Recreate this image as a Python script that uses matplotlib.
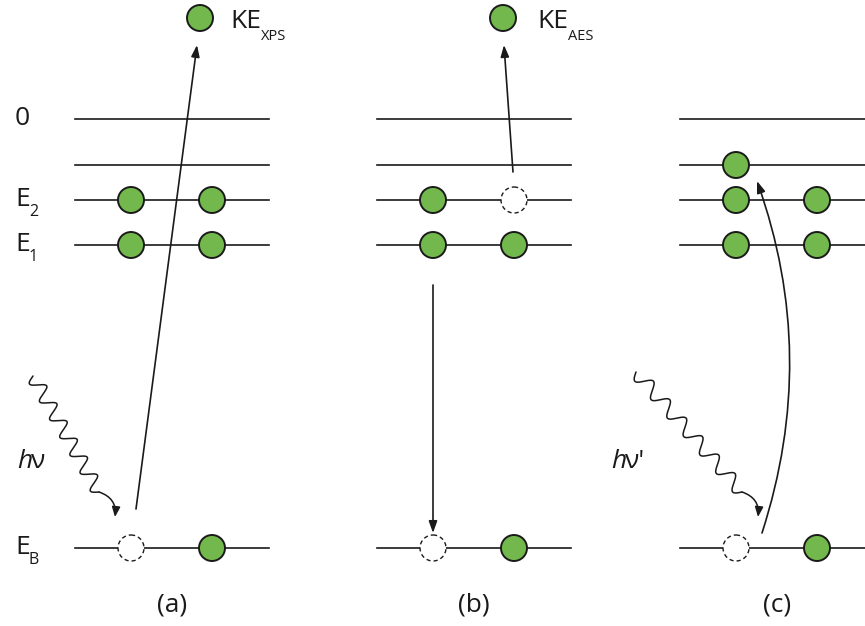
"""
Energy level diagram: (a) photoemission, (b) Auger decay, (c) resonant excitation.
Everything is drawn in pixel coordinates of the 865x626 canvas.
"""

import numpy as np
import matplotlib
matplotlib.use("Agg")
import matplotlib.pyplot as plt
from matplotlib.patches import Circle


# Layout data (pixels)

panel_x0 = [75, 377, 680]          # left end of the level lines
panel_width = 194
level_y = [119, 165, 200, 245, 548]   # 0, empty level, E2, E1, EB
slot_dx = [56, 137]                # electron offsets from the panel start
panel_labels = ["(a)", "(b)", "(c)"]

# occupied electrons: (panel, level index, slot)
electrons = [
    (0, 2, 0), (0, 2, 1), (0, 3, 0), (0, 3, 1), (0, 4, 1),
    (1, 2, 0), (1, 3, 0), (1, 3, 1), (1, 4, 1),
    (2, 1, 0), (2, 2, 0), (2, 2, 1), (2, 3, 0), (2, 3, 1), (2, 4, 1),
]
# vacancies (dashed)
holes = [(0, 4, 0), (1, 4, 0), (1, 2, 1), (2, 4, 0)]

# free electrons and labels
free_electrons = [(200, 18), (503, 18)]
free_labels = [("KE", "XPS", 230), ("KE", "AES", 537)]

level_labels = [("0", "", 119), ("E", "2", 200), ("E", "1", 245), ("E", "B", 548)]

GREEN = "#72b84c"
DARK = "#1a1a1a"
FONT = "Open Sans"
R = 13
BIG = 19
SMALL = 11.5


def wavy(ax, p0, p1, tip, waves=6.5, amp=7):
    p0, p1 = np.array(p0, float), np.array(p1, float)
    d = p1 - p0
    L = np.hypot(*d)
    u = d / L
    n = np.array([-u[1], u[0]])
    t = np.linspace(0, 1, 400)
    s = amp * np.sin(2 * np.pi * waves * t)
    pts = p0[None, :] + t[:, None] * d[None, :] + s[:, None] * n[None, :]
    ax.plot(pts[:, 0], pts[:, 1], color=DARK, lw=1.1, solid_capstyle="round")
    ax.annotate("", xy=tip, xytext=p1,
                arrowprops=dict(arrowstyle="-|>,head_length=0.6,head_width=0.25",
                                color=DARK, lw=1.1, shrinkA=0, shrinkB=0,
                                connectionstyle="arc3,rad=-0.4"))


fig = plt.figure(figsize=(8.65, 6.26), dpi=100)
ax = fig.add_axes([0, 0, 1, 1])
ax.set_xlim(0, 865)
ax.set_ylim(626, 0)
ax.set_aspect("equal")
ax.axis("off")

# level lines
for x0 in panel_x0:
    for y in level_y:
        ax.plot([x0, x0 + panel_width], [y, y], color=DARK, lw=1.2, zorder=1)

for p, lv, sl in electrons:
    ax.add_patch(Circle((panel_x0[p] + slot_dx[sl], level_y[lv]), R,
                        facecolor=GREEN, edgecolor=DARK, lw=1.4, zorder=3))

for p, lv, sl in holes:
    ax.add_patch(Circle((panel_x0[p] + slot_dx[sl], level_y[lv]), R,
                        facecolor="white", edgecolor=DARK, lw=1.0,
                        linestyle=(0, (3, 2.2)), zorder=3))

for x, y in free_electrons:
    ax.add_patch(Circle((x, y), R, facecolor=GREEN, edgecolor=DARK, lw=1.4, zorder=3))

for big, sub, x in free_labels:
    ax.text(x, 28, big, fontsize=BIG, family=FONT, color=DARK, va="baseline")
    ax.text(x + 31, 40, sub, fontsize=SMALL - 1, family=FONT, color=DARK, va="baseline")

for big, sub, y in level_labels:
    ax.text(15, y + 6, big, fontsize=BIG, family=FONT, color=DARK, va="baseline")
    if sub:
        ax.text(29, y + 16, sub, fontsize=SMALL, family=FONT, color=DARK, va="baseline")

for x0, lab in zip(panel_x0, panel_labels):
    ax.text(x0 + 97, 605, lab, fontsize=BIG, family=FONT, color=DARK,
            ha="center", va="center")

arrow = dict(arrowstyle="-|>,head_length=0.7,head_width=0.25", color=DARK,
             lw=1.2, shrinkA=0, shrinkB=0)

# (a) photoelectron
ax.annotate("", xy=(197, 45), xytext=(136, 509), arrowprops=arrow)
wavy(ax, (33, 376), (99, 492), (115, 517))
ax.text(17, 468, "h", fontsize=BIG, family=FONT, style="italic", color=DARK, va="baseline")
ax.text(31, 468, "ν", fontsize=BIG, family=FONT, color=DARK, va="baseline")

# (b) Auger
ax.annotate("", xy=(504, 45), xytext=(513, 172), arrowprops=arrow)
ax.annotate("", xy=(433, 533), xytext=(433, 285), arrowprops=arrow)

# (c) resonant excitation
ax.annotate("", xy=(757, 181), xytext=(762, 533),
            arrowprops=dict(arrow, connectionstyle="arc3,rad=0.17"))
wavy(ax, (636, 372), (742, 492), (758, 517))
ax.text(611, 468, "h", fontsize=BIG, family=FONT, style="italic", color=DARK, va="baseline")
ax.text(625, 468, "ν'", fontsize=BIG, family=FONT, color=DARK, va="baseline")

fig.savefig("out.png", dpi=100)
